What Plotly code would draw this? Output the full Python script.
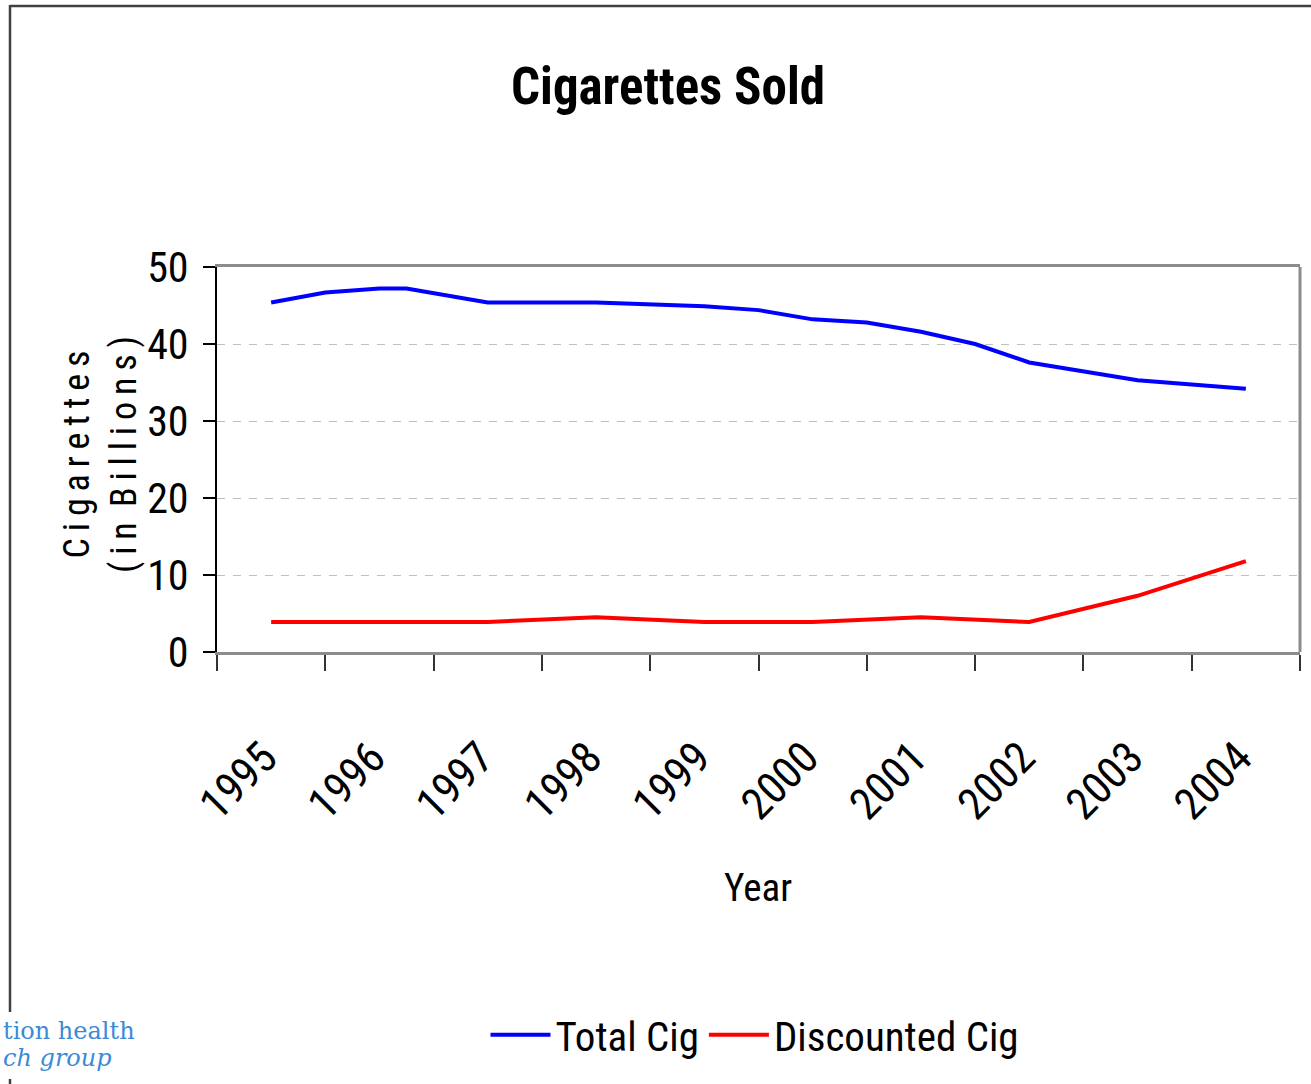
import plotly.graph_objects as go

# ---------------- data ----------------
years = [1995, 1996, 1997, 1998, 1999, 2000, 2001, 2002, 2003, 2004]
year_labels = ["1995", "1996", "1997", "1998", "1999", "2000", "2001", "2002", "2003", "2004"]

# Total cigarettes (billions) - sampled at the points visible on the line
total_x = [1995, 1995.5, 1996, 1996.25, 1997, 1998, 1999, 1999.5, 2000, 2000.5,
           2001, 2001.5, 2002, 2003, 2004]
total_cig = [45.4, 46.7, 47.2, 47.2, 45.4, 45.4, 44.9, 44.4, 43.2, 42.8,
             41.6, 40.0, 37.6, 35.3, 34.2]

# Discounted cigarettes (billions)
discounted_cig = [3.9, 3.9, 3.9, 4.5, 3.9, 3.9, 4.5, 3.9, 7.3, 11.8]

y_ticks = [0, 10, 20, 30, 40, 50]
boundaries = [1994.5 + i for i in range(11)]

# ---------------- layout helpers ----------------
W, H = 1311, 1084
L, R, T, B = 217, 1300, 267, 652

def px_x(px):
    return (px - L) / (R - L)

def px_y(py):
    return (B - py) / (B - T)

NARROW = "Roboto Condensed, Liberation Sans, Arial, sans-serif"

fig = go.Figure()
fig.add_trace(go.Scatter(
    x=total_x, y=total_cig, mode="lines", name="Total Cig",
    line=dict(color="#0000ff", width=4),
))
fig.add_trace(go.Scatter(
    x=years, y=discounted_cig, mode="lines", name="Discounted Cig",
    line=dict(color="#ff0000", width=4),
))

fig.update_layout(
    width=W, height=H,
    margin=dict(l=L, r=W - R, t=T, b=H - B),
    paper_bgcolor="white", plot_bgcolor="white",
    title=dict(text="<b>Cigarettes Sold</b>", font=dict(family=NARROW, size=51, color="black"),
               x=668 / W, xref="container", xanchor="center",
               y=1 - 86 / H, yref="container", yanchor="middle"),
    showlegend=True,
    legend=dict(orientation="h", x=px_x(755), y=px_y(1035), xanchor="center", yanchor="middle",
                font=dict(family=NARROW, size=41, color="black"), bgcolor="rgba(0,0,0,0)",
                itemwidth=60, tracegroupgap=0),
    xaxis=dict(
        range=[1994.5, 2004.5], tickmode="array", tickvals=years,
        ticktext=[lab + "\u00a0" for lab in year_labels],
        tickangle=-45, ticks="", showgrid=False, zeroline=False,
        tickfont=dict(family=NARROW, size=44, color="black"),
        ticklabelstandoff=52,
        showline=True, linecolor="#8c8c8c", linewidth=3, mirror=True,
        minor=dict(tickmode="array", tickvals=boundaries, ticks="outside", ticklen=16,
                   tickwidth=1.5, tickcolor="#333333", showgrid=False),
    ),
    yaxis=dict(
        range=[0, 50], tickmode="array", tickvals=y_ticks, ticks="outside", ticklen=12,
        tickwidth=1.5, tickcolor="black",
        tickfont=dict(family=NARROW, size=42, color="black"),
        ticklabelstandoff=6,
        showgrid=True, gridcolor="#c0c0c0", gridwidth=1, griddash="8px,8px",
        zeroline=False, showline=True, linecolor="black", linewidth=2,
    ),
)

# right border of plot area
fig.add_shape(type="line", xref="paper", yref="paper", x0=1, x1=1, y0=0, y1=1,
              line=dict(color="#8c8c8c", width=3))

# outer frame lines (top and left)
fig.add_shape(type="line", xref="paper", yref="paper", x0=px_x(10), x1=px_x(1311),
              y0=px_y(6), y1=px_y(6), line=dict(color="#404040", width=2.5))
fig.add_shape(type="line", xref="paper", yref="paper", x0=px_x(10), x1=px_x(10),
              y0=px_y(5), y1=px_y(1012), line=dict(color="#404040", width=2.5))
fig.add_shape(type="line", xref="paper", yref="paper", x0=px_x(10), x1=px_x(10),
              y0=px_y(1079), y1=px_y(1084), line=dict(color="#404040", width=2.5))

# y-axis title
fig.add_annotation(
    text="C\u2009i\u2009g\u2009a\u2009r\u2009e\u2009t\u2009t\u2009e\u2009s<br>(\u2009i\u2009n\u2009 B\u2009i\u2009l\u2009l\u2009i\u2009o\u2009n\u2009s\u2009)",
    xref="paper", yref="paper", x=px_x(100), y=px_y(455), xanchor="center", yanchor="middle",
    textangle=-90, showarrow=False, font=dict(family=NARROW, size=36, color="black"),
)

# x-axis title
fig.add_annotation(
    text="Year", xref="paper", yref="paper", x=px_x(758), y=px_y(888),
    xanchor="center", yanchor="middle", showarrow=False,
    font=dict(family=NARROW, size=39, color="black"),
)

# logo text
fig.add_annotation(
    text="tion health", xref="paper", yref="paper", x=px_x(1), y=px_y(1031),
    xanchor="left", yanchor="middle", showarrow=False,
    font=dict(family="DejaVu Serif, Liberation Serif, serif", size=24, color="#3b8ad8"),
)
fig.add_annotation(
    text="<i>ch group</i>", xref="paper", yref="paper", x=px_x(1), y=px_y(1058),
    xanchor="left", yanchor="middle", showarrow=False,
    font=dict(family="DejaVu Serif, Liberation Serif, serif", size=24, color="#3b8ad8"),
)

fig.write_html("out.html")
